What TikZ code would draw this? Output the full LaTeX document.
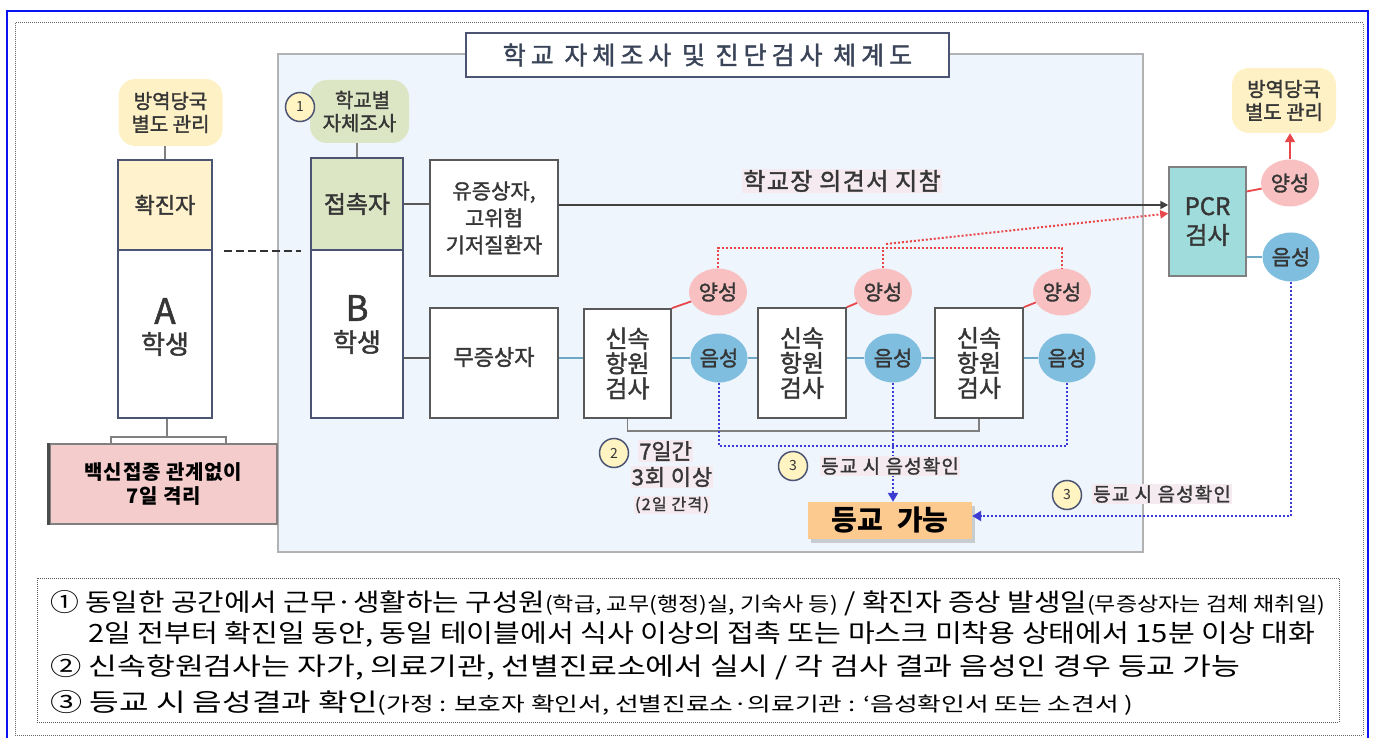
\documentclass[tikz,border=0pt]{standalone}
\usepackage{fontspec}
\setmainfont{Noto Sans CJK KR}
\newfontfamily\med{Noto Sans CJK KR}[FakeBold=1.6]
\usepackage{graphicx}
\usetikzlibrary{shapes.geometric,shadows,arrows.meta}
\definecolor{panel}{HTML}{EEF5FC}
\definecolor{bdark}{HTML}{4B5473}
\definecolor{bgray}{HTML}{595959}
\definecolor{txt}{HTML}{363636}
\definecolor{titlec}{HTML}{3A4458}
\definecolor{yfill}{HTML}{FFF2CC}
\definecolor{ycloud}{HTML}{FFF1C6}
\definecolor{gfill}{HTML}{DDE6C4}
\definecolor{pinkc}{HTML}{F8C0C0}
\definecolor{bluec}{HTML}{7FBEDF}
\definecolor{pcrc}{HTML}{A0DCDB}
\definecolor{okc}{HTML}{FCC98F}
\definecolor{qpink}{HTML}{F4CCCC}
\definecolor{redc}{HTML}{E8474A}
\definecolor{bluel}{HTML}{6FA8C4}
\definecolor{bdot}{HTML}{3C3CD2}
\definecolor{numfill}{HTML}{FFF4C2}
\definecolor{hlpink}{HTML}{F4EAF0}
\definecolor{outerblue}{HTML}{0A14F0}
\begin{document}
\begin{tikzpicture}[x=1pt,y=-1pt,
  boxd/.style={draw=bdark, line width=1.6pt, inner sep=0pt, align=center, text=txt},
  boxg/.style={draw=bgray, line width=1.6pt, fill=white, inner sep=0pt, align=center, text=txt},
  cloudbox/.style={rounded corners=17pt, inner sep=0pt, align=center, text=txt, font=\med\fontsize{20}{23}\selectfont},
  posc/.style={ellipse, fill=pinkc, minimum width=58pt, minimum height=47pt, inner sep=0pt, text=txt, font=\med\fontsize{21}{21}\selectfont},
  negc/.style={ellipse, fill=bluec, minimum width=57pt, minimum height=49pt, inner sep=0pt, text=txt, font=\med\fontsize{21}{21}\selectfont},
  numc/.style={circle, draw=bdark, fill=numfill, line width=1.5pt, minimum size=29pt, inner sep=0pt, text=txt, font=\fontsize{14}{14}\selectfont},
  hl/.style={fill=hlpink, inner sep=1pt, text=txt},
  redline/.style={draw=redc, line width=1.8pt},
  blueline/.style={draw=bluel, line width=1.6pt},
  reddot/.style={draw=redc, line width=2pt, dotted},
  bluedot/.style={draw=bdot, line width=2pt, dotted},
  tri/.style={-{Triangle[length=9pt,width=10pt]}},
  notetxt/.style={anchor=west, inner sep=0pt, text=black}
]
\useasboundingbox (0,0) rectangle (1377,738);
\clip (0,0) rectangle (1377,738);
% frames
\draw[outerblue, line width=2.5pt] (7,11) rectangle (1368,750);
\draw[gray!80!black, line width=1pt, densely dotted] (15,23) rectangle (1363,735);
% panel
\draw[fill=panel, draw=gray!60, line width=1.6pt] (278,54) rectangle (1143,552);
\node[draw=bdark, line width=1.6pt, fill=white, minimum width=483pt, minimum height=44pt, inner sep=0pt, text=titlec,
  font=\med\fontsize{25}{25}\selectfont\addfontfeature{LetterSpace=20}] (title) at (707.5,55) {학교 자체조사 및 진단검사 체계도};

% left column (A)
\node[cloudbox, fill=ycloud, minimum width=104pt, minimum height=67pt] (cloudA) at (170.5,112.5) {방역당국\\별도 관리};
\node[boxd, fill=yfill, minimum width=94pt, minimum height=90pt, font=\med\fontsize{22}{22}\selectfont] (confA) at (165,205) {확진자};
\node[boxd, fill=white, minimum width=94pt, minimum height=168pt] (stuA) at (165,334) {};
\node[text=txt, inner sep=0pt, font=\med\fontsize{35}{35}\selectfont] (Aletter) at (165,311) {A};
\node[text=txt, inner sep=0pt, font=\med\fontsize{26}{26}\selectfont] (Alabel) at (165,344) {학생};
\draw[gray, line width=1.5pt] (confA.north |- cloudA.south) -- (confA.north);
\node[draw=gray, line width=1.2pt, fill=qpink, minimum width=227pt, minimum height=80pt, inner sep=0pt, align=center, text=black,
  font=\bfseries\fontsize{20}{24}\selectfont\addfontfeature{LetterSpace=4}] (quar) at (163.5,484) {백신접종 관계없이\\7일 격리};
\draw[black!70, line width=3pt] ([xshift=-1pt]quar.north west) -- ([xshift=-1pt]quar.south west);
\coordinate (brk) at (167,437);
\draw[gray, line width=1.5pt] (stuA.south -| brk) -- (brk);
\draw[gray, line width=1.5pt] (111,444) -- (111,437) -- (226,437) -- (226,444);

% B column
\node[cloudbox, fill=gfill, minimum width=99pt, minimum height=63pt] (cloudB) at (359.5,111.5) {\hspace*{6pt}학교별\\자체조사};
\node[numc] (n1) at (300,107) {1};
\node[boxd, fill=gfill, minimum width=92pt, minimum height=92pt, font=\med\fontsize{24}{24}\selectfont] (contact) at (357,204) {접촉자};
\node[boxd, fill=white, minimum width=92pt, minimum height=168pt] (stuB) at (357,334) {};
\node[text=txt, inner sep=0pt, font=\med\fontsize{35}{35}\selectfont] (Bletter) at (357,308) {B};
\node[text=txt, inner sep=0pt, font=\med\fontsize{26}{26}\selectfont] (Blabel) at (357,342) {학생};
\draw[gray, line width=1.5pt] (contact.north |- cloudB.south) -- (contact.north);
\draw[black!80, line width=2pt, dash pattern=on 8pt off 4pt, shorten <=11pt, shorten >=9pt] (confA.south east) -- (contact.south west);

% symptom boxes
\node[boxg, minimum width=128pt, minimum height=116pt, font=\med\fontsize{21}{27}\selectfont] (sym) at (494,218) {유증상자,\\고위험\\기저질환자};
\node[boxg, minimum width=128pt, minimum height=110pt] (asym) at (494,363) {};
\node[text=txt, inner sep=0pt, font=\med\fontsize{22}{22}\selectfont] (asymlbl) at (494,357) {무증상자};
\draw[bgray, line width=1.5pt] (contact.east) -- (sym.west |- contact.east);

% rapid antigen tests
\node[boxg, minimum width=87pt, minimum height=109pt, font=\med\fontsize{24}{25}\selectfont] (rat1) at (627.5,363.5) {신속\\항원\\검사};
\node[boxg, minimum width=88pt, minimum height=110pt, font=\med\fontsize{24}{25}\selectfont] (rat2) at (802,363) {신속\\항원\\검사};
\node[boxg, minimum width=88pt, minimum height=110pt, font=\med\fontsize{24}{25}\selectfont] (rat3) at (979,363) {신속\\항원\\검사};
\node[posc] (pos1) at (718,292) {양성};
\node[posc] (pos2) at (883,292) {양성};
\node[posc] (pos3) at (1062,292) {양성};
\node[negc] (neg1) at (719,358) {음성};
\node[negc] (neg2) at (893,358) {음성};
\node[negc] (neg3) at (1067,358) {음성};

\draw[bgray, line width=1.5pt] (stuB.east |- neg1) -- (asym.west |- neg1);
\draw[blueline] (asym.east |- neg1) -- (rat1.west |- neg1);
\draw[blueline] (rat1.east |- neg1) -- (neg1.west);
\draw[blueline] (neg1.east) -- (rat2.west |- neg1);
\draw[blueline] (rat2.east |- neg2) -- (neg2.west);
\draw[blueline] (neg2.east) -- (rat3.west |- neg2);
\draw[blueline] (rat3.east |- neg3) -- (neg3.west);
\draw[redline] (rat1.north east) -- (pos1);
\draw[redline] (rat2.north east) -- (pos2);
\draw[redline] (rat3.north east) -- (pos3);
\draw[gray, line width=1.5pt] (rat1.south) -- ++(0,12) -| (rat3.south);

% PCR
\node[draw=gray, line width=1.5pt, fill=pcrc, minimum width=77pt, minimum height=109pt, inner sep=0pt, align=center, text=txt,
  font=\med\fontsize{24}{29}\selectfont] (pcr) at (1207.5,221.5) {PCR\\검사};
\node[posc] (pcrpos) at (1290,183) {양성};
\node[negc] (pcrneg) at (1291,257) {음성};
\node[cloudbox, fill=ycloud, minimum width=104pt, minimum height=65pt] (cloudR) at (1284,100.5) {방역당국\\별도 관리};
\draw[redline] ([yshift=30pt]pcr.east) -- (pcrpos);
\draw[blueline] (pcr.east |- pcrneg) -- (pcrneg.west);
\draw[redline, tri] (pcrpos.north) -- (pcrpos.north |- cloudR.south);

% school principal arrow
\node[hl, font=\med\fontsize{24}{24}\selectfont\addfontfeature{LetterSpace=6}] (lbl1) at (842,181) {학교장 의견서 지참};
\coordinate (a0) at ([yshift=13pt]sym.east);
\draw[black!75, line width=1.8pt, -{Triangle[length=8pt,width=8pt]}] (a0) -- (a0 -| pcr.west);

% red dotted (positive -> PCR)
\coordinate (rj) at (883,248);
\draw[reddot] (pos1.north) -- (pos1.north |- rj) -- (pos3.north |- rj) -- (pos3.north);
\draw[reddot] (pos2.north) -- (pos2.north |- rj);
\draw[reddot, -{Triangle[length=8pt,width=8pt]}] ([xshift=3pt,yshift=4pt]rj) -- ([yshift=8pt]pcr.west);

% school possible
\node[fill=okc, minimum width=164pt, minimum height=37pt, inner sep=0pt, text=black, font=\bfseries\fontsize{28}{28}\selectfont,
  drop shadow={opacity=0.35, shadow xshift=3pt, shadow yshift=-4pt}] (ok) at (890,520.5) {등교\hspace{14pt}가능};

% blue dotted (negative -> school)
\coordinate (bj) at (0,446);
\draw[bluedot] (neg1.south) -- (neg1.south |- bj) -- (neg3.south |- bj) -- (neg3.south);
\draw[bluedot, tri] (neg2.south) -- (neg2.south |- ok.north);
\coordinate (pj) at (0,516);
\draw[bluedot, tri] (pcrneg.south) -- (pcrneg.south |- pj) -- (ok.east |- pj);

% labels
\node[numc] (n2) at (614,453) {2};
\node[hl, anchor=west, font=\med\fontsize{22}{22}\selectfont] (l2a) at (638,451) {7일간};
\node[hl, font=\med\fontsize{22}{22}\selectfont\addfontfeature{LetterSpace=4}] (l2b) at (672,477) {3회 이상};
\node[hl, font=\med\fontsize{16}{16}\selectfont\addfontfeature{LetterSpace=8}] (l2c) at (672,505) {(2일 간격)};
\node[numc] (n3a) at (793,466) {3};
\node[hl, anchor=west, font=\med\fontsize{19}{19}\selectfont\addfontfeature{LetterSpace=6}] (l3a) at (820,466) {등교 시 음성확인};
\node[numc] (n3b) at (1067,495) {3};
\node[hl, anchor=west, font=\med\fontsize{19}{19}\selectfont\addfontfeature{LetterSpace=6}] (l3b) at (1092,494) {등교 시 음성확인};

% notes
\draw[gray!70!black, line width=1pt, densely dotted] (37,578) rectangle (1339,722);
\node[notetxt] (t1) at (50,603) {\resizebox{1275pt}{21pt}{\fontsize{20}{20}\selectfont ① 동일한 공간에서 근무·생활하는 구성원{\fontsize{16}{16}\selectfont(학급, 교무(행정)실, 기숙사 등)} / 확진자 증상 발생일{\fontsize{16}{16}\selectfont(무증상자는 검체 채취일)}}};
\node[notetxt] (t2) at (88,634) {\resizebox{1227pt}{21pt}{\fontsize{20}{20}\selectfont 2일 전부터 확진일 동안, 동일 테이블에서 식사 이상의 접촉 또는 마스크 미착용 상태에서 15분 이상 대화}};
\node[notetxt] (t3) at (50,667) {\resizebox{1190pt}{21pt}{\fontsize{20}{20}\selectfont ② 신속항원검사는 자가, 의료기관, 선별진료소에서 실시 / 각 검사 결과 음성인 경우 등교 가능}};
\node[notetxt] (t4) at (50,703) {\resizebox{1083pt}{21pt}{\fontsize{20}{20}\selectfont ③ 등교 시 음성결과 확인{\fontsize{16}{16}\selectfont(가정 : 보호자 확인서, 선별진료소·의료기관 : ‘음성확인서 또는 소견서 )}}};
\end{tikzpicture}
\end{document}
